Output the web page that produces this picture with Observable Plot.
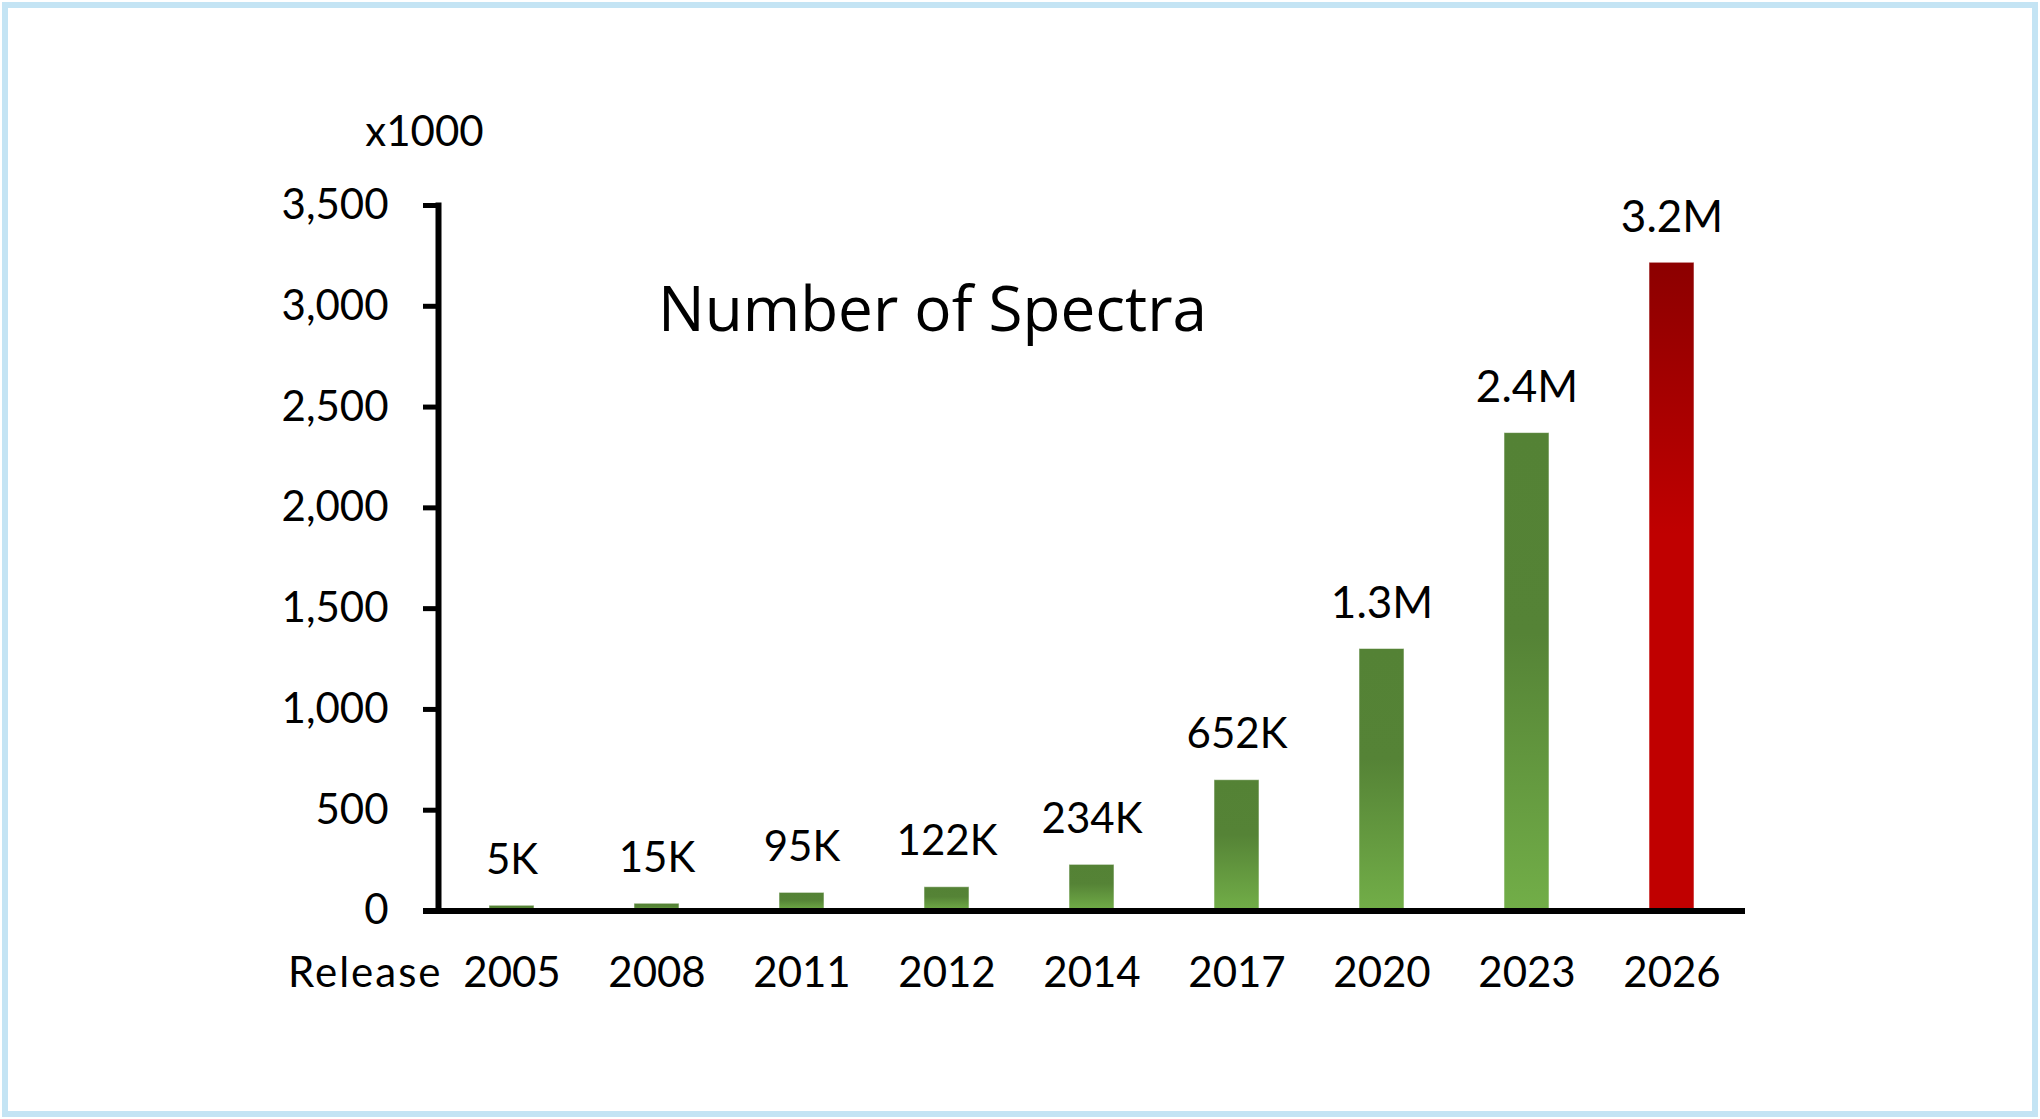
<!DOCTYPE html>
<html><head><meta charset="utf-8">
<script src="https://cdn.jsdelivr.net/npm/d3@7"></script>
<script src="https://cdn.jsdelivr.net/npm/@observablehq/plot@0.6"></script>
<style>
html,body{margin:0;padding:0;background:#fff;}
#wrap{position:relative;width:2040px;height:1119px;overflow:hidden;background:#fff;}
#wrap svg{position:absolute;left:0;top:0;}
#border{position:absolute;left:2px;top:2px;width:2036px;height:1115px;box-sizing:border-box;border:6px solid #c4e4f4;pointer-events:none;}
</style></head><body><div id="wrap"><div id="border"></div></div>
<script>
const releases = ["2005","2008","2011","2012","2014","2017","2020","2023","2026"];
const spectraK = [26, 36, 90, 118, 229, 649, 1300, 2371, 3216];
const valueLabels = ["5K","15K","95K","122K","234K","652K","1.3M","2.4M","3.2M"];
const highlightRelease = "2026";
const yTicks = [0, 500, 1000, 1500, 2000, 2500, 3000, 3500];
const chartTitle = "Number of Spectra";
const unitLabel = "x1000";
const xLabel = "Release";

const data = releases.map((r, i) => ({release: r, value: spectraK[i], label: valueLabels[i]}));
const labelSize = d => d.label.endsWith("M") ? 44 : 42;

const chart = Plot.plot({
  width: 2040, height: 1119,
  marginLeft: 438, marginRight: 295, marginTop: 205, marginBottom: 208.5,
  style: {fontFamily: "Lato, sans-serif", fontSize: "42px", color: "#000", background: "transparent"},
  x: {domain: releases, paddingInner: 0.687, paddingOuter: 0.3435, align: 0.5},
  y: {domain: [0, 3500]},
  marks: [
    Plot.barY(data, {filter: d => d.release !== highlightRelease, x: "release", y: "value",
      fill: "url(#gradGreen)", stroke: "#ffffff", strokeOpacity: 0.55, strokeWidth: 1}),
    Plot.barY(data, {filter: d => d.release === highlightRelease, x: "release", y: "value",
      fill: "url(#gradRed)", stroke: "#ffffff", strokeOpacity: 0.55, strokeWidth: 1}),
    Plot.axisY({ticks: yTicks, tickFormat: d3.format(","), tickSize: 15, tickPadding: 35,
      strokeWidth: 5, fontSize: 42, label: null}),
    Plot.axisX({tickSize: 0, tickPadding: 46, fontSize: 42, label: null}),
    Plot.ruleY([0], {strokeWidth: 6, insetLeft: -15, stroke: "#000"}),
    Plot.frame({anchor: "left", strokeWidth: 6, stroke: "#000"}),
    Plot.text(data.filter(d => labelSize(d) === 42), {x: "release", y: "value", text: "label",
      dy: -32 - 0.32 * 42, lineAnchor: "middle", fontSize: 42, fill: "#000"}),
    Plot.text(data.filter(d => labelSize(d) === 44), {x: "release", y: "value", text: "label",
      dy: -31 - 0.32 * 44, lineAnchor: "middle", fontSize: 44, fill: "#000"}),
    Plot.text([chartTitle], {frameAnchor: "top-left", textAnchor: "middle", lineAnchor: "middle",
      dx: 494, dy: 106, fontSize: 62, fontFamily: "'Open Sans', sans-serif", fill: "#000"}),
    Plot.text([unitLabel], {frameAnchor: "top-left", textAnchor: "middle", lineAnchor: "middle",
      dx: -14, dy: -73, fontSize: 42, fill: "#000"}),
    Plot.text([xLabel], {frameAnchor: "bottom-left", textAnchor: "end", lineAnchor: "top",
      dx: 4, dy: 46.5, fontSize: 42, fill: "#000"})
  ]
});

const svgEl = chart.tagName.toLowerCase() === "svg" ? chart : chart.querySelector("svg");
const svgSel = d3.select(svgEl);
svgSel.selectAll("text").filter(function () { return this.textContent === xLabel; })
  .attr("letter-spacing", "2px");
const defs = svgSel.insert("defs", ":first-child");
const g1 = defs.append("linearGradient").attr("id", "gradGreen").attr("x1", 0).attr("y1", 0).attr("x2", 0).attr("y2", 1);
g1.append("stop").attr("offset", "0").attr("stop-color", "#548235");
g1.append("stop").attr("offset", "0.42").attr("stop-color", "#558336");
g1.append("stop").attr("offset", "1").attr("stop-color", "#72ae48");
const g2 = defs.append("linearGradient").attr("id", "gradRed").attr("x1", 0).attr("y1", 0).attr("x2", 0).attr("y2", 1);
g2.append("stop").attr("offset", "0").attr("stop-color", "#8c0000");
g2.append("stop").attr("offset", "0.42").attr("stop-color", "#c00000");
g2.append("stop").attr("offset", "1").attr("stop-color", "#c00000");

document.getElementById("wrap").insertBefore(chart, document.getElementById("border"));
</script>
</body></html>
